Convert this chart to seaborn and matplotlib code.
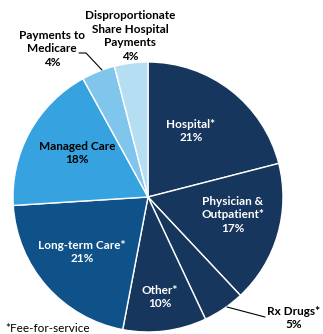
import matplotlib
matplotlib.use("Agg")
import matplotlib.pyplot as plt
import seaborn as sns

# slices, clockwise from 12 o'clock
categories = ["Hospital*", "Physician &\nOutpatient*", "Rx Drugs*", "Other*",
              "Long-term Care*", "Managed Care", "Payments to\nMedicare",
              "Disproportionate\nShare Hospital\nPayments"]
shares = [21, 17, 5, 10, 21, 18, 4, 4]
colors = ["#17365d", "#17365d", "#17365d", "#17365d",
          "#0f5189", "#36a3e0", "#80c6ec", "#b5def3"]

# pixel scale: centre (148, 197), radius 135 px
CX, CY, R = 148, 197, 135


def to_data(px, py):
    return (px - CX) / R, (CY - py) / R


sns.set_theme(style="white")
plt.rcParams['font.family'] = ['Lato', 'DejaVu Sans']

fig = plt.figure(figsize=(3.23, 3.34), dpi=100)
ax = fig.add_axes([0, 0, 1, 1])
ax.pie(shares, colors=colors, startangle=90, counterclock=False,
       radius=1, center=(0, 0),
       wedgeprops=dict(edgecolor="white", linewidth=1.0))
ax.set_xlim(-CX / R, (323 - CX) / R)
ax.set_ylim(-(334 - CY) / R, CY / R)
ax.set_aspect("equal")
ax.axis("off")

# label positions in pixels
label_pos = [(191, 131), (233, 215), (294, 318), (160, 297),
             (82, 252), (77, 153), (52, 49), (130, 36)]
label_color = ["white", "white", "black", "white",
               "white", "black", "black", "black"]
for name, val, (px, py), c in zip(categories, shares, label_pos, label_color):
    x, y = to_data(px, py)
    ax.text(x, y, f"{name}\n{val}%", ha="center", va="center",
            fontsize=8.5, fontweight="bold", color=c, linespacing=1.3)

# leader lines
for pts in [[(227, 307), (265, 317)],
            [(79, 53), (86, 53), (102, 70)]]:
    xy = [to_data(*p) for p in pts]
    ax.plot([p[0] for p in xy], [p[1] for p in xy], color="black", lw=0.8)

fx, fy = to_data(5, 328)
ax.text(fx, fy, "*Fee-for-service", ha="left", va="center", fontsize=8.5,
        color="black")

fig.savefig("out.png", dpi=100)
